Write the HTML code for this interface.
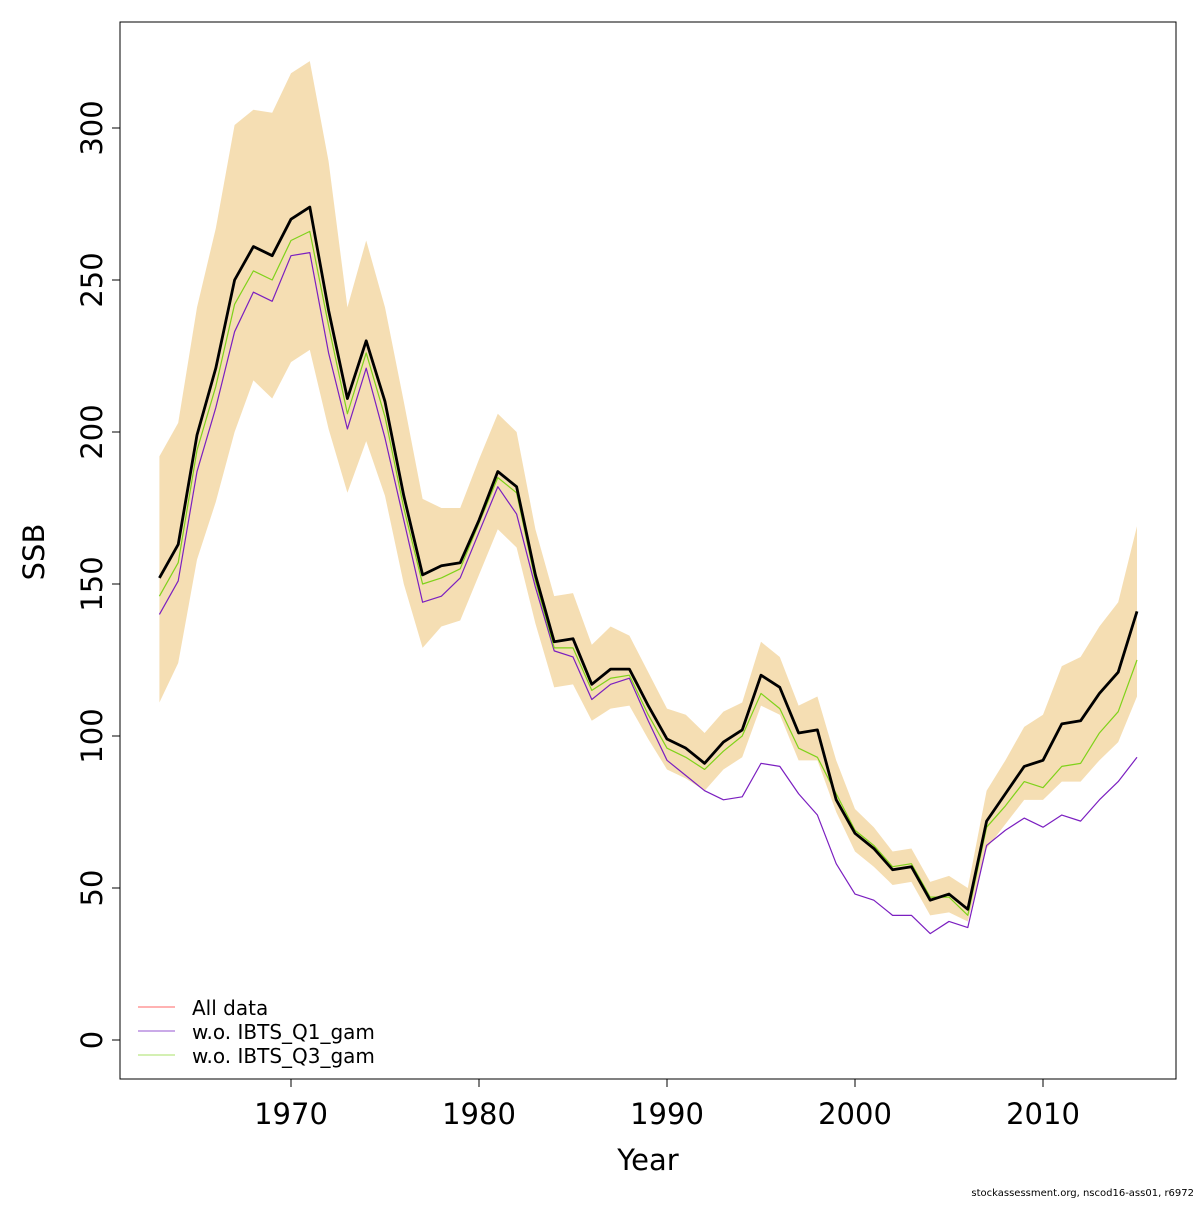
<!DOCTYPE html>
<html><head><meta charset="utf-8"><style>
html,body{margin:0;padding:0;background:#fff;}
svg text{font-family:"DejaVu Sans","Liberation Sans",sans-serif;fill:#000;}
</style></head><body>
<svg id="chart" width="1200" height="1200" xmlns="http://www.w3.org/2000/svg">
<rect x="0" y="0" width="1200" height="1200" fill="#fff"/>
<g id="band-layer"></g>
<g id="line-layer"></g>
<rect x="120" y="22" width="1056" height="1057" fill="none" stroke="#000" stroke-width="1"/>
<g id="axis-layer"></g>
<text x="648" y="1170" font-size="29" text-anchor="middle">Year</text>
<text transform="translate(44,552) rotate(-90)" font-size="29" text-anchor="middle">SSB</text>
<g>
<line x1="138" y1="1007" x2="175" y2="1007" stroke="#ff9999" stroke-width="1.5"/>
<text x="192" y="1015" font-size="20">All data</text>
<line x1="138" y1="1031" x2="175" y2="1031" stroke="#b88ee0" stroke-width="1.5"/>
<text x="192" y="1039" font-size="20">w.o. IBTS_Q1_gam</text>
<line x1="138" y1="1055" x2="175" y2="1055" stroke="#c6ec9a" stroke-width="1.5"/>
<text x="192" y="1063" font-size="20">w.o. IBTS_Q3_gam</text>
</g>
<text x="1194" y="1196" font-size="10" text-anchor="end">stockassessment.org, nscod16-ass01, r6972</text>
</svg>
<script>
const years = [];
for (let y = 1963; y <= 2015; y++) years.push(y);
const ssb = [152,163,199,221,250,261,258,270,274,240,211,230,210,179,153,156,157,171,187,182,153,131,132,117,122,122,110,99,96,91,98,102,120,116,101,102,79,68,63,56,57,46,48,43,72,81,90,92,104,105,114,121,141];
const upper = [192,203,241,267,301,306,305,318,322,289,241,263,241,210,178,175,175,191,206,200,168,146,147,130,136,133,121,109,107,101,108,111,131,126,110,113,92,76,70,62,63,52,54,50,82,92,103,107,123,126,136,144,169];
const lower = [111,124,158,177,200,217,211,223,227,201,180,197,179,150,129,136,138,153,168,162,137,116,117,105,109,110,99,89,86,82,89,93,110,107,92,92,75,62,57,51,52,41,42,39,63,71,79,79,85,85,92,98,113];
const q1 = [140,151,187,208,233,246,243,258,259,226,201,221,198,171,144,146,152,167,182,173,149,128,126,112,117,119,105,92,87,82,79,80,91,90,81,74,58,48,46,41,41,35,39,37,64,69,73,70,74,72,79,85,93];
const q3 = [146,157,194,215,242,253,250,263,266,235,206,226,205,175,150,152,155,170,185,180,151,129,129,115,119,120,107,96,93,89,95,100,114,109,96,93,81,69,64,57,58,47,47,41,70,77,85,83,90,91,101,108,125];
const xTicks = [1970,1980,1990,2000,2010];
const yTicks = [0,50,100,150,200,250,300];

const NS = "http://www.w3.org/2000/svg";
function xs(v){ return 291 + (v - 1970) * 18.8; }
function ys(v){ return 1040 - v * 3.04; }
function mk(tag, attrs, parent){
  const e = document.createElementNS(NS, tag);
  for (const k in attrs) e.setAttribute(k, attrs[k]);
  parent.appendChild(e); return e;
}
const band = document.getElementById('band-layer');
let pts = years.map((y,i)=>xs(y)+','+ys(upper[i]));
for (let i = years.length-1; i >= 0; i--) pts.push(xs(years[i])+','+ys(lower[i]));
const poly = mk('polygon', {points: pts.join(' '), fill:'#f5deb3', stroke:'none'}, band);



const lines = document.getElementById('line-layer');
function line(arr, color, w, name){
  const p = mk('polyline', {points: years.map((y,i)=>xs(y)+','+ys(arr[i])).join(' '), fill:'none', stroke:color, 'stroke-width':w, 'stroke-linejoin':'round'}, lines);
  
  
}
line(q1, '#7b1fc0', 1.2, 'line-wo-ibts-q1');
line(q3, '#7fd21a', 1.2, 'line-wo-ibts-q3');
line(ssb, '#000', 2.8, 'line-ssb-estimate');

const ax = document.getElementById('axis-layer');
xTicks.forEach(t=>{
  const l = mk('line', {x1:xs(t), y1:1079, x2:xs(t), y2:1087, stroke:'#000'}, ax);
  
  
  const tx = mk('text', {x:xs(t), y:1124, 'font-size':29, 'text-anchor':'middle'}, ax);
  tx.textContent = t;
  
  
});
yTicks.forEach(t=>{
  const l = mk('line', {x1:112, y1:ys(t), x2:120, y2:ys(t), stroke:'#000'}, ax);
  
  
  const tx = mk('text', {transform:'translate(102,'+ys(t)+') rotate(-90)', 'font-size':29, 'text-anchor':'middle'}, ax);
  tx.textContent = t;
  
  
});
</script>
</body></html>
